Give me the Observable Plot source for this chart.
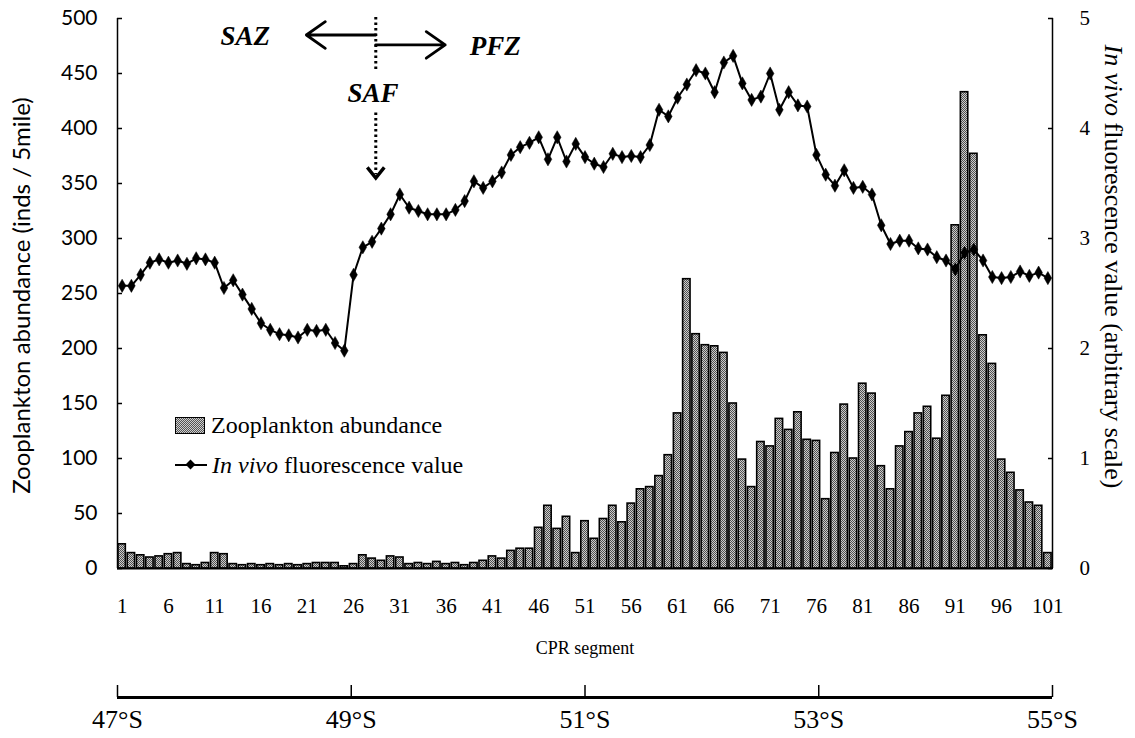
<!DOCTYPE html>
<html><head><meta charset="utf-8">
<script src="https://cdn.jsdelivr.net/npm/d3@7"></script>
<script src="https://cdn.jsdelivr.net/npm/@observablehq/plot@0.6"></script>
<style>
body{margin:0;background:#fff;}
#wrap{position:relative;width:1135px;height:738px;overflow:hidden;}
#wrap svg{display:block;}
#legend{position:absolute;left:175px;top:405px;font-family:"Liberation Serif",serif;font-size:24px;color:#000;line-height:40px;}
#legend .row{display:flex;align-items:center;white-space:nowrap;}
#legend .sw{width:30px;height:17px;border:1.5px solid #000;box-sizing:border-box;margin-right:6px;background:repeating-conic-gradient(#555 0 25%, #d0d0d0 0 50%) 0 0/2px 2px;}
#legend .ln{position:relative;width:32px;height:18px;margin-right:5px;}
#legend .ln:before{content:"";position:absolute;left:0;right:0;top:8px;height:2px;background:#000;}
#legend .ln:after{content:"";position:absolute;left:12px;top:5px;width:7px;height:7px;background:#000;transform:rotate(45deg);}
</style></head><body>
<svg width="0" height="0" style="position:absolute"><defs>
<pattern id="dither" width="2" height="2" patternUnits="userSpaceOnUse">
<rect width="2" height="2" fill="#cccccc"/><rect width="1" height="1" fill="#505050"/><rect x="1" y="1" width="1" height="1" fill="#505050"/>
</pattern></defs></svg>
<div id="wrap">
<div id="legend">
<div class="row"><span class="sw"></span>Zooplankton abundance</div>
<div class="row"><span class="ln"></span><i>In vivo</i>&nbsp;fluorescence value</div>
</div>
</div>
<script>
// ---- data ----
const segments = d3.range(1, 102);
const abundance = [22,14,12,10,11,13,14,4,3,5, 14,13,4,3,4,3,4,3,4,3, 4,5,5,5,2,4,12,9,7,11,
  10,4,5,4,6,4,5,3,5,7, 11,9,16,18,18,37,57,36,47,14, 43,27,45,57,42,59,72,74,84,103,
  141,263,213,203,202,196,150,99,74,115, 111,136,126,142,117,116,63,105,149,100,
  168,159,93,72,111,124,141,147,118,157, 312,433,377,212,186,99,87,71,60,57, 14];
const fluorescence = [2.57,2.57,2.67,2.78,2.81,2.78,2.80,2.77,2.82,2.81, 2.78,2.55,2.62,2.49,2.36,2.23,2.17,2.13,2.12,2.10,
  2.17,2.16,2.17,2.05,1.98,2.67,2.92,2.97,3.09,3.22, 3.40,3.28,3.25,3.22,3.22,3.22,3.26,3.34,3.52,3.46,
  3.52,3.60,3.76,3.83,3.87,3.92,3.72,3.92,3.70,3.86, 3.74,3.68,3.65,3.77,3.74,3.75,3.74,3.85,4.17,4.11,
  4.28,4.40,4.53,4.50,4.33,4.60,4.66,4.41,4.26,4.29, 4.50,4.17,4.33,4.21,4.20,3.76,3.58,3.48,3.62,3.46,
  3.47,3.40,3.12,2.95,2.98,2.98,2.91,2.90,2.83,2.80, 2.72,2.87,2.90,2.80,2.65,2.64,2.65,2.70,2.66,2.69, 2.64];
const segmentTicks = [1,6,11,16,21,26,31,36,41,46,51,56,61,66,71,76,81,86,91,96,101];
const abundanceTicks = [0,50,100,150,200,250,300,350,400,450,500];
const fluorescenceTicks = [0,1,2,3,4,5];
const latitudeTicks = [47,49,51,53,55];
const segmentDomain = [0.5, 101.5];
const abundanceDomain = [0, 500];
const fluorScale = 100; // right axis 0–5 shares the left axis 0–500
// front annotations (segment position, abundance-axis value)
const frontSeg = 28.4;
const zoneLabels = [{seg: 14.3, v: 484, text: "SAZ"}, {seg: 41.3, v: 475, text: "PFZ"}, {seg: 28.1, v: 432, text: "SAF"}];
const zoneArrows = [{x1: frontSeg, x2: 20.9, v: 485}, {x1: frontSeg, x2: 35.9, v: 476}];
const frontDotted = [{y1: 501, y2: 451}, {y1: 414, y2: 358}];
const frontHead = [{v: 355}];

// downward chevron symbol for the SAF arrowhead
const chevronDown = {
  draw(context, size) {
    const k = Math.sqrt(size / Math.PI);
    context.moveTo(-k, -1.25 * k);
    context.lineTo(0, 0);
    context.lineTo(k, -1.25 * k);
  }
};

const data = segments.map((s, i) => ({seg: s, abundance: abundance[i], fluor: fluorescence[i] * fluorScale}));
const serif = "Liberation Serif";
const sans = "Lato";

const main = Plot.plot({
  width: 1135, height: 670,
  marginLeft: 117, marginRight: 83, marginTop: 18, marginBottom: 102,
  x: {type: "linear", domain: segmentDomain},
  y: {domain: abundanceDomain},
  style: {fontFamily: serif, fontSize: "21px", color: "black", background: "white", overflow: "visible"},
  marks: [
    Plot.rectY(data, {x1: d => d.seg - 0.4, x2: d => d.seg + 0.4, y: "abundance", fill: "url(#dither)", stroke: "black", strokeWidth: 1.6}),
    Plot.line(data, {x: "seg", y: "fluor", stroke: "black", strokeWidth: 2}),
    Plot.dot(data, {x: "seg", y: "fluor", symbol: "diamond", r: 4, fill: "black", stroke: "black", strokeWidth: 0.5}),
    Plot.ruleY([abundanceDomain[0]], {stroke: "black", strokeWidth: 2}),
    Plot.ruleX(segmentDomain, {y1: abundanceDomain[0], y2: abundanceDomain[1], stroke: "black", strokeWidth: 1.5}),
    Plot.axisX({ticks: segmentTicks, tickSize: 0, tickPadding: 30, fontSize: 21, fontFamily: serif, label: null}),
    Plot.axisY({ticks: abundanceTicks, tickSize: -5, tickPadding: 25, fontSize: 21, fontFamily: sans, label: null, strokeWidth: 1.5}),
    Plot.axisY({anchor: "right", ticks: fluorescenceTicks.map(d => d * fluorScale), tickFormat: d => d / fluorScale, tickSize: -5, tickPadding: 32, fontSize: 21, fontFamily: serif, label: null, strokeWidth: 1.5}),
    Plot.text(["CPR segment"], {frameAnchor: "bottom", dy: 85, fontSize: 18, fontFamily: serif}),
    Plot.text(["Zooplankton abundance (inds / 5mile)"], {frameAnchor: "left", textAnchor: "middle", rotate: -90, dx: -95, dy: 2, fontSize: 24, fontFamily: sans}),
    Plot.text(["In vivo fluorescence value (arbitrary scale)"], {frameAnchor: "right", textAnchor: "middle", rotate: 90, dx: 61, dy: -27, fontSize: 26, fontFamily: serif}),
    // annotations
    Plot.ruleX(frontDotted, {x: () => frontSeg, y1: "y1", y2: "y2", stroke: "black", strokeWidth: 3, strokeDasharray: "2.5,3"}),
    Plot.dot(frontHead, {x: () => frontSeg, y: "v", symbol: chevronDown, r: 8.5, fill: "none", stroke: "black", strokeWidth: 3.4, strokeLinejoin: "miter"}),
    Plot.arrow(zoneArrows, {x1: "x1", x2: "x2", y1: "v", y2: "v", stroke: "black", strokeWidth: 2.8, headLength: 15, headAngle: 70}),
    Plot.text(zoneLabels, {x: "seg", y: "v", text: "text", fontSize: 27, fontWeight: "bold", fontStyle: "italic", fontFamily: serif})
  ]
});

const lat = Plot.plot({
  width: 1135, height: 68,
  marginLeft: 117, marginRight: 83, marginTop: 15, marginBottom: 41,
  x: {type: "linear", domain: [latitudeTicks[0], latitudeTicks[latitudeTicks.length - 1]]},
  y: {domain: [0, 1], axis: null},
  style: {fontFamily: serif, fontSize: "26px", color: "black", background: "white", overflow: "visible"},
  marks: [
    Plot.ruleY([0], {stroke: "black", strokeWidth: 3}),
    Plot.ruleX(latitudeTicks, {y1: 0, y2: 1, stroke: "black", strokeWidth: 1.5}),
    Plot.axisX({ticks: latitudeTicks, tickFormat: d => d + "°S", tickSize: 0, tickPadding: 12, fontSize: 26, fontFamily: serif, label: null})
  ]
});

const wrap = document.getElementById("wrap");
wrap.insertBefore(lat, wrap.firstChild);
wrap.insertBefore(main, lat);

// italicise "In vivo" in the right-axis title
d3.select(main).selectAll("text").each(function() {
  if (this.textContent === "In vivo fluorescence value (arbitrary scale)") {
    const ns = "http://www.w3.org/2000/svg";
    const el = this.querySelector("tspan") || this;
    el.textContent = "";
    const t1 = document.createElementNS(ns, "tspan");
    t1.setAttribute("font-style", "italic");
    t1.textContent = "In vivo";
    const t2 = document.createElementNS(ns, "tspan");
    t2.textContent = " fluorescence value (arbitrary scale)";
    el.appendChild(t1); el.appendChild(t2);
  }
});
</script>
</body></html>
